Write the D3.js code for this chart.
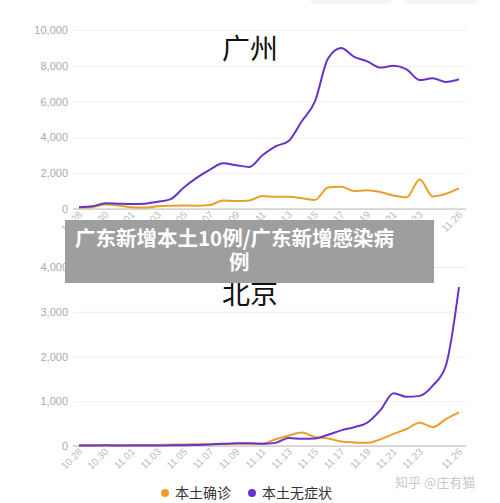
<!DOCTYPE html><html><head><meta charset="utf-8"><script src="https://cdn.jsdelivr.net/npm/d3@7"></script>
<style>body{margin:0;background:#fff}svg{font-family:"Noto Sans CJK SC","Noto Sans",sans-serif}</style></head><body><svg width="500" height="503"></svg><script>
const dates=["10.28","10.29","10.30","10.31","11.01","11.02","11.03","11.04","11.05","11.06","11.07","11.08","11.09","11.10","11.11","11.12","11.13","11.14","11.15","11.16","11.17","11.18","11.19","11.20","11.21","11.22","11.23","11.24","11.25","11.26"];
const tickLabels=["10.28","10.30","11.01","11.03","11.05","11.07","11.09","11.11","11.13","11.15","11.17","11.19","11.21","11.23","11.26"];
const gzAsym=[100,150,320,300,280,300,400,550,1200,1750,2200,2550,2450,2350,3000,3500,3800,4900,6000,8400,9000,8500,8250,7900,8000,7800,7200,7300,7100,7250];
const gzConf=[80,100,250,200,100,80,150,180,200,180,220,480,450,480,720,680,680,600,500,1200,1250,1000,1050,950,750,650,1650,700,850,1150];
const bjAsym=[10,10,15,10,10,10,10,15,15,25,35,50,60,60,50,70,180,160,170,250,350,420,520,800,1180,1100,1120,1350,1800,3550];
const bjConf=[15,15,15,15,20,20,25,30,35,40,40,40,50,50,50,150,230,300,200,170,100,80,70,150,270,380,520,420,600,750];
const gzTicks=[0,2000,4000,6000,8000,10000], bjTicks=[0,1000,2000,3000,4000];
const svg=d3.select("svg");
const x=d3.scalePoint().domain(dates).range([79,459]);
const cOr="#e8a02a", cPu="#6a32c9";
function panel(y0,y1,max,ticks,series,title,ty){
  const y=d3.scaleLinear().domain([0,max]).range([y0,y1]);
  const g=svg.append("g");
  g.append("g").attr("transform","translate(73,0)").call(d3.axisLeft(y).tickValues(ticks).tickSize(-393).tickFormat(d3.format(",")))
   .call(a=>{a.select(".domain").remove();a.selectAll("line").attr("stroke","#eee");a.selectAll("text").attr("fill","#aaa").attr("font-size",11).attr("x",-5).attr("font-family","Liberation Sans, Arial")});
  g.append("line").attr("x1",73).attr("x2",466).attr("y1",y0).attr("y2",y0).attr("stroke","#bbb");
  const xa=g.append("g").attr("transform",`translate(0,${y0})`).call(d3.axisBottom(x).tickValues(tickLabels).tickSize(0).tickPadding(4));
  xa.select(".domain").remove();
  xa.selectAll("text").attr("fill","#bbb").attr("font-size",10).attr("font-family","Liberation Sans, Arial").attr("text-anchor","end").attr("dx","-2").attr("dy","3").attr("transform","rotate(-45)");
  g.append("text").attr("x",250).attr("y",ty).attr("text-anchor","middle").attr("font-size",28).attr("fill","#111").text(title);
  const line=d3.line().x((d,i)=>x(dates[i])).y(d=>y(d)).curve(d3.curveMonotoneX);
  series.forEach(([d,c])=>g.append("path").attr("d",line(d)).attr("fill","none").attr("stroke",c).attr("stroke-width",2));
}
panel(209,30,10000,gzTicks,[[gzConf,cOr],[gzAsym,cPu]],"广州",59);
panel(446,267,4000,bjTicks,[[bjConf,cOr],[bjAsym,cPu]],"北京",304);
const lg=svg.append("g").attr("font-size",14).attr("fill","#333");
lg.append("circle").attr("cx",165).attr("cy",493).attr("r",4).attr("fill",cOr);
lg.append("text").attr("x",175).attr("y",498).text("本土确诊");
lg.append("circle").attr("cx",252).attr("cy",493).attr("r",4).attr("fill",cPu);
lg.append("text").attr("x",262).attr("y",498).text("本土无症状");
svg.append("text").attr("x",395).attr("y",487).attr("font-size",13).attr("fill","#c8c8c8").text("知乎 @庄有猫");
svg.append("rect").attr("x",65).attr("y",220).attr("width",369).attr("height",63).attr("fill","#9e9e9e");
const bt=svg.append("g").attr("fill","#fff").attr("font-weight","bold").attr("font-size",20.5);
bt.append("text").attr("x",75).attr("y",246).text("广东新增本土10例/广东新增感染病");
bt.append("text").attr("x",229).attr("y",270).text("例");
svg.append("rect").attr("x",310).attr("y",-6).attr("width",82).attr("height",10).attr("rx",5).attr("fill","#f4f4f4");
svg.append("rect").attr("x",404).attr("y",-6).attr("width",74).attr("height",10).attr("rx",5).attr("fill","#f4f4f4");
</script></body></html>
